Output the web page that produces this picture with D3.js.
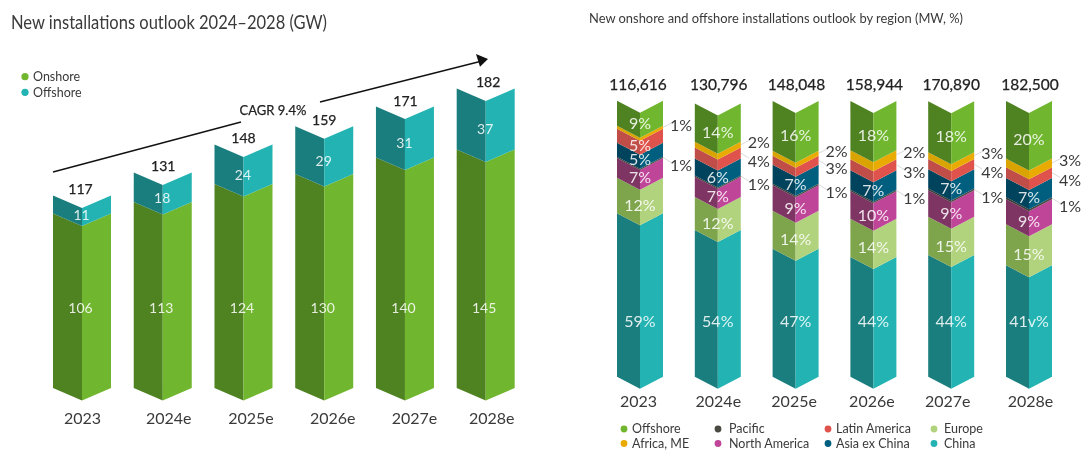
<!DOCTYPE html>
<html>
<head>
<meta charset="utf-8">
<script src="https://cdn.jsdelivr.net/npm/d3@7"></script>
<style>
  html, body { margin: 0; padding: 0; background: #fff; overflow: hidden; }
  svg { display: block; font-family: Lato, sans-serif; filter: blur(0.35px); }
</style>
</head>
<body>
<svg id="chart"></svg>
<script>
// left chart, GW
const years = ["2023", "2024e", "2025e", "2026e", "2027e", "2028e"];
const onshore = [106, 113, 124, 130, 140, 145];
const offshore = [11, 18, 24, 29, 31, 37];
const totalsGW = [117, 131, 148, 159, 171, 182];

// right chart, shares (the printed labels are rounded)
const totalsMW = ["116,616", "130,796", "148,048", "158,944", "170,890", "182,500"];
const shareChina = [59.3, 53.2, 46.4, 43.4, 44.1, 40.4];
const shareEurope = [12.9, 12, 13.8, 13.9, 13.9, 14.9];
const shareNorthAmerica = [7.1, 7.3, 9.2, 10, 9.6, 9.1];
const sharePacific = [0.5, 0.5, 0.6, 0.5, 0.7, 0.7];
const shareAsia = [5.1, 6.1, 6.9, 7.1, 6.9, 7];
const shareLatin = [5, 4, 3.2, 4, 3.8, 3.9];
const shareAfrica = [1.1, 2.1, 1.9, 3.2, 2.4, 3.1];
const shareOffshore = [9.1, 13.9, 18, 17.9, 18.5, 20.9];

const labelChina = ["59%", "54%", "47%", "44%", "44%", "41v%"];
const labelEurope = ["12%", "12%", "14%", "14%", "15%", "15%"];
const labelNorthAmerica = ["7%", "7%", "9%", "10%", "9%", "9%"];
const labelPacific = ["1%", "1%", "1%", "1%", "1%", "1%"];
const labelAsia = ["5%", "6%", "7%", "7%", "7%", "7%"];
const labelLatin = ["5%", "4%", "3%", "3%", "4%", "4%"];
const labelAfrica = ["1%", "2%", "2%", "2%", "3%", "3%"];
const labelOffshore = ["9%", "14%", "16%", "18%", "18%", "20%"];

const w = 1082;
const h = 450;
const textColor = "#3a3a3a";
const inkWhite = "rgba(255,255,255,0.85)";

const green = { light: "#70b62f", dark: "#4f8221" };
const teal = { light: "#22b3b2", dark: "#1a7e7e" };

const svg = d3.select("#chart").attr("width", w).attr("height", h);

// one prism band: left and right face with a v shaped top and bottom
function facePath(cx, halfW, yTop, yBot, notch, side) {
  const edge = cx + side * halfW;
  return d3.line()([[edge, yTop], [cx, yTop + notch], [cx, yBot + notch], [edge, yBot]]) + "Z";
}

function drawBand(g, cx, halfW, yTop, yBot, notch, color) {
  g.append("path").attr("d", facePath(cx, halfW, yTop, yBot, notch, -1)).attr("fill", color.dark);
  g.append("path").attr("d", facePath(cx, halfW, yTop, yBot, notch, 1)).attr("fill", color.light);
}

function drawYearAxis(scale, y, size, nudge) {
  const axis = svg.append("g")
    .attr("transform", `translate(0, ${y})`)
    .call(d3.axisBottom(scale).tickSize(0).tickPadding(0));
  axis.select(".domain").remove();
  axis.selectAll("text")
    .attr("y", 0)
    .attr("dy", "0.35em")
    .attr("dx", (d, i) => nudge[i])
    .attr("fill", textColor)
    .style("font-family", "Lato, sans-serif")
    .style("font-size", size + "px");
}

// ---- left chart ----
svg.append("text")
  .attr("x", 11).attr("y", 29)
  .attr("fill", textColor)
  .attr("textLength", 316).attr("lengthAdjust", "spacingAndGlyphs")
  .style("font-size", "18.5px")
  .text("New installations outlook 2024–2028 (GW)");

const xLeft = d3.scalePoint().domain(years).range([82, 485.7]);
const yLeft = d3.scaleLinear().domain([0, 182]).range([388, 88.5]);
const halfLeft = 29;
const notchLeft = 12.5;
const totalNudge = [-1.5, 0.5, 0, 0, 0.5, 2.5];

const leftBars = svg.append("g").attr("id", "left-bars");
years.forEach((year, i) => {
  const cx = xLeft(year);
  const g = leftBars.append("g");
  const yOn = yLeft(onshore[i]);
  const yAll = yLeft(onshore[i] + offshore[i]);
  drawBand(g, cx, halfLeft, yOn, yLeft(0), notchLeft, green);
  drawBand(g, cx, halfLeft, yAll, yOn, notchLeft, teal);

  g.append("text").attr("x", cx - 1.5).attr("y", 308)
    .attr("text-anchor", "middle").attr("dy", "0.35em")
    .attr("fill", inkWhite).style("font-size", "14px").text(onshore[i]);
  g.append("text").attr("x", cx - 0.5).attr("y", (yAll + yOn) / 2 + notchLeft - 2)
    .attr("text-anchor", "middle").attr("dy", "0.35em")
    .attr("fill", inkWhite).style("font-size", "14px").text(offshore[i]);
  g.append("text").attr("x", cx + totalNudge[i]).attr("y", yAll - 6)
    .attr("text-anchor", "middle").attr("dy", "0.35em")
    .attr("fill", "#222").attr("stroke", "#222").attr("stroke-width", 0.25)
    .style("font-size", "14px").text(totalsGW[i]);
});

drawYearAxis(xLeft, 418, 16, [0, 5.5, 7, 8, 9, 5.5]);

[["Onshore", green.light, 76.7], ["Offshore", teal.light, 92.3]].forEach((d) => {
  svg.append("circle").attr("cx", 25).attr("cy", d[2]).attr("r", 3.6).attr("fill", d[1]);
  svg.append("text").attr("x", 33).attr("y", d[2]).attr("dy", "0.35em")
    .attr("fill", textColor).style("font-size", "12.5px").text(d[0]);
});

// CAGR arrow, broken by its label
svg.append("line").attr("x1", 53).attr("y1", 172).attr("x2", 241).attr("y2", 122)
  .attr("stroke", "#111").attr("stroke-width", 1.3);
svg.append("line").attr("x1", 320).attr("y1", 102).attr("x2", 480).attr("y2", 61.5)
  .attr("stroke", "#111").attr("stroke-width", 1.3);
svg.append("path").attr("d", d3.line()([[488, 59], [476, 54], [480, 66.7]]) + "Z").attr("fill", "#111");
svg.append("text").attr("x", 273).attr("y", 110)
  .attr("text-anchor", "middle").attr("dy", "0.35em")
  .attr("fill", "#222").attr("stroke", "#222").attr("stroke-width", 0.25)
  .style("font-size", "13px").text("CAGR 9.4%");

// ---- right chart ----
svg.append("text")
  .attr("x", 589).attr("y", 23)
  .attr("fill", textColor)
  .attr("textLength", 374).attr("lengthAdjust", "spacingAndGlyphs")
  .style("font-size", "13.5px")
  .text("New onshore and offshore installations outlook by region (MW, %)");

const series = [
  { key: "China", values: shareChina, labels: labelChina, light: teal.light, dark: teal.dark },
  { key: "Europe", values: shareEurope, labels: labelEurope, light: "#b2d37e", dark: "#7ea54c" },
  { key: "North America", values: shareNorthAmerica, labels: labelNorthAmerica, light: "#bf4598", dark: "#7f3564" },
  { key: "Pacific", values: sharePacific, labels: labelPacific, light: "#4a4a42", dark: "#3a3a34" },
  { key: "Asia ex China", values: shareAsia, labels: labelAsia, light: "#005f7f", dark: "#00435c" },
  { key: "Latin America", values: shareLatin, labels: labelLatin, light: "#e0534c", dark: "#c04d48" },
  { key: "Africa, ME", values: shareAfrica, labels: labelAfrica, light: "#eaab00", dark: "#d9a400" },
  { key: "Offshore", values: shareOffshore, labels: labelOffshore, light: green.light, dark: green.dark }
];

const rows = years.map((year, i) => {
  const row = { year };
  series.forEach((s) => { row[s.key] = s.values[i]; });
  return row;
});
const stacked = d3.stack().keys(series.map((s) => s.key))(rows);

const xRight = d3.scalePoint().domain(years).range([640, 1029]);
const yRight = d3.scaleLinear().domain([0, 100]).range([376.7, 101]);
const halfRight = 23;
const notchRight = 12;
const totalMWNudge = [-2, 1, 1, 1, 0, 1];

const rightBars = svg.append("g").attr("id", "right-bars");
stacked.forEach((layer, k) => {
  const s = series[k];
  layer.forEach((d, i) => {
    const cx = xRight(d.data.year);
    const yTop = yRight(d[1]);
    const yBot = yRight(d[0]);
    drawBand(rightBars, cx, halfRight, yTop, yBot, notchRight, s);
  });
});

// labels go on after all the bands so none of them is painted over
stacked.forEach((layer, k) => {
  const s = series[k];
  layer.forEach((d, i) => {
    const cx = xRight(d.data.year);
    const mid = (yRight(d[1]) + yRight(d[0])) / 2;

    // small bands get their label beside the bar with a leader line
    const outside = s.key === "Africa, ME" || s.key === "Pacific" || (s.key === "Latin America" && i > 0);
    if (outside) {
      const up = s.key === "Africa, ME";
      const edge = cx + halfRight;
      rightBars.append("line")
        .attr("x1", edge).attr("y1", mid)
        .attr("x2", edge + 8).attr("y2", mid + (up ? -4 : 5))
        .attr("stroke", "#cfcfcf").attr("stroke-width", 0.8);
      rightBars.append("text")
        .attr("x", edge + 18).attr("y", mid + (up ? -2 : 8))
        .attr("text-anchor", "middle").attr("dy", "0.35em")
        .attr("fill", textColor).style("font-size", "16px").text(s.labels[i]);
    } else {
      const y = s.key === "China" ? 321 : mid + notchRight - 2;
      rightBars.append("text")
        .attr("x", cx).attr("y", y)
        .attr("text-anchor", "middle").attr("dy", "0.35em")
        .attr("fill", inkWhite).style("font-size", "16px").text(s.labels[i]);
    }
  });
});

svg.append("g").selectAll("text")
  .data(years)
  .enter()
  .append("text")
  .attr("x", (d, i) => xRight(d) + totalMWNudge[i])
  .attr("y", 85)
  .attr("text-anchor", "middle").attr("dy", "0.35em")
  .attr("fill", "#222").attr("stroke", "#222").attr("stroke-width", 0.25)
  .style("font-size", "15.5px")
  .text((d, i) => totalsMW[i]);

drawYearAxis(xRight, 401, 16, [-2, 0, -2, -2, -4, 1]);

// legend of the right chart, columns top to bottom
const legendRows = [
  ["Offshore", 624, 632, 429], ["Africa, ME", 624, 632, 443.5],
  ["Pacific", 718, 729, 429], ["North America", 718, 729, 443.5],
  ["Latin America", 828, 836, 429], ["Asia ex China", 828, 836, 443.5],
  ["Europe", 934, 944, 429], ["China", 934, 944, 443.5]
];
const legendColor = d3.scaleOrdinal().domain(series.map((s) => s.key)).range(series.map((s) => s.light));
legendRows.forEach((d) => {
  svg.append("circle").attr("cx", d[1]).attr("cy", d[3]).attr("r", 3.4).attr("fill", legendColor(d[0]));
  svg.append("text").attr("x", d[2]).attr("y", d[3]).attr("dy", "0.35em")
    .attr("fill", textColor).style("font-size", "12.5px").text(d[0]);
});
</script>
</body>
</html>
